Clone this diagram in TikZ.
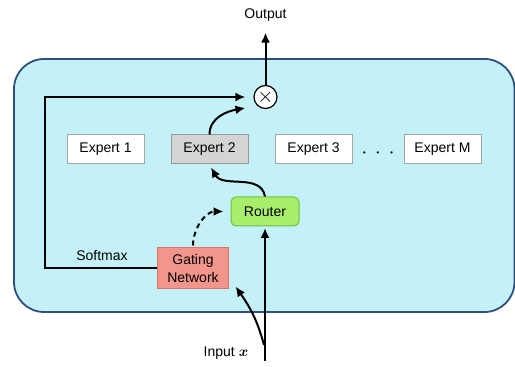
\documentclass[tikz,border=0pt]{standalone}
\usepackage{amsmath}
\usepackage{fontspec}
\setmainfont{Liberation Sans}
\usepackage{xcolor}
\usetikzlibrary{arrows.meta}
\usetikzlibrary{positioning}
\definecolor{panelfill}{HTML}{C4F1F8}
\definecolor{panelline}{HTML}{2F4F7F}
\definecolor{routerfill}{HTML}{A9EE6B}
\definecolor{routerline}{HTML}{6FBF40}
\definecolor{gatefill}{HTML}{F4958B}
\definecolor{gateline}{HTML}{D8746A}
\tikzset{
  txt/.style={font=\fontsize{14}{18}\selectfont, inner sep=0pt},
  expert/.style={txt, draw=black!35, line width=1pt, fill=white, minimum width=77pt, minimum height=29pt},
  flow/.style={line width=2pt, >={Latex[length=10pt,width=9pt]}},
}

\begin{document}
\begin{tikzpicture}[x=1pt,y=1pt]
  \useasboundingbox (0,0) rectangle (515,367);
  % the panel
  \draw[fill=panelfill, draw=panelline, line width=1.8pt, rounded corners=30pt] (14,55) rectangle (514.5,308);

  % setup the nodes
  \foreach \n/\x/\t in {e1/105.5/Expert 1, e3/313.5/Expert 3, eM/442.5/Expert M}
  {
    \node[expert] (\n) at (\x,217.5) {\t};
  }
  \node[expert, fill=black!17, draw=black!40] (e2) at (209.5,217.5) {Expert 2};
  \node[txt] (dots) at (378,214) {$\boldsymbol{\cdot}$\hspace{9pt}$\boldsymbol{\cdot}$\hspace{9pt}$\boldsymbol{\cdot}$};
  \node[txt, draw=routerline, fill=routerfill, line width=1pt, rounded corners=5pt, minimum width=68pt, minimum height=29pt] (router) at (265,155.5) {Router};
  \node[txt, draw=gateline, fill=gatefill, line width=1pt, minimum width=71pt, minimum height=41pt, align=center] (gate) at (193,98.5) {Gating\\Network};
  \node[circle, draw=black, fill=white, line width=1.2pt, minimum size=23pt, inner sep=0pt, font=\fontsize{20}{20}\selectfont] (mult) at (265.5,270) {$\times$};
  \node[txt] (output) at (265.5,352) {Output};
  \node[txt] (softmax) at (102,111) {Softmax};
  \node[txt] (input) at (226,14) {Input $\boldsymbol{x}$};

  \coordinate (LoopBot) at (45,98.5);
  \coordinate (LoopTop) at (45,270);
  \coordinate (InBot)   at (265,6);
  \coordinate (InFork)  at (264,22);

  % connectors
  \draw[flow, ->, shorten >=11pt] (mult.north) -- (output.south);
  \draw[flow, ->, shorten >=8pt] (gate.west) -- (LoopBot) -- (LoopTop) -- (mult.west);% softmax loop
  \draw[flow, ->] (e2.north) to[out=90, in=190] ([shift={(-8pt,-11pt)}]mult.west);
  \draw[flow, ->] (router.north) to[out=100, in=-60] ([shift={(1.5pt,-3pt)}]e2.south);
  \draw[flow, ->, dash pattern=on 5pt off 4pt, shorten <=2pt] (gate.north) to[out=90, in=180] ([xshift=-7pt]router.west);
  \draw[flow, ->, shorten >=1.5pt] (InBot) -- (router.south);
  \draw[flow, ->] (InFork) to[out=105, in=-55] ([shift={(6.5pt,3pt)}]gate.south east);
\end{tikzpicture}
\end{document}
